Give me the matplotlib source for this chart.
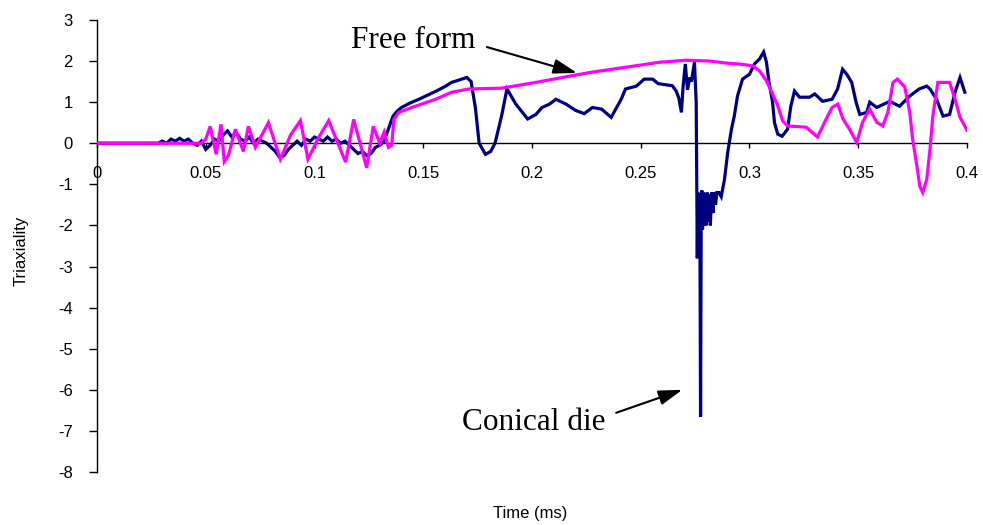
import matplotlib
matplotlib.use("Agg")
import matplotlib.pyplot as plt

# Conical die: time (ms) and stress triaxiality
conical_t = [0, 0.028, 0.030, 0.032, 0.034, 0.036, 0.038, 0.040, 0.042, 0.044, 0.046, 0.048,
             0.050, 0.052, 0.054, 0.056, 0.058, 0.060, 0.062, 0.064, 0.066, 0.068, 0.070, 0.072,
             0.074, 0.076, 0.078, 0.080, 0.082, 0.084, 0.086, 0.088, 0.090, 0.092, 0.094, 0.096,
             0.098, 0.100, 0.102, 0.104, 0.106, 0.108, 0.110, 0.112, 0.114, 0.116, 0.118, 0.120,
             0.122, 0.124, 0.126, 0.128, 0.130, 0.132, 0.134, 0.136, 0.138, 0.140, 0.144, 0.148,
             0.152, 0.156, 0.160, 0.163, 0.166, 0.170, 0.172, 0.174, 0.1757, 0.1786, 0.181, 0.183,
             0.186, 0.1885, 0.1926, 0.198, 0.2018, 0.2046, 0.208, 0.211, 0.2157, 0.220, 0.224,
             0.2278, 0.232, 0.2364, 0.241, 0.243, 0.248, 0.2516, 0.2555, 0.258, 0.2645, 0.2663,
             0.2675, 0.2687, 0.2695, 0.2705, 0.2715, 0.2725, 0.2733, 0.2747, 0.2755, 0.2760,
             0.2763, 0.2766, 0.2769, 0.2772, 0.2775, 0.2778, 0.2781, 0.2784, 0.2788, 0.2792,
             0.2796, 0.2800, 0.2805, 0.2810, 0.2815, 0.2820, 0.2826, 0.2832, 0.2838, 0.2844,
             0.2850, 0.286, 0.287, 0.2885,
             0.290, 0.2917, 0.293, 0.2945, 0.2968, 0.300, 0.3023, 0.3046, 0.3065, 0.3078, 0.309,
             0.3106, 0.3115, 0.313, 0.315, 0.3175, 0.319, 0.3207, 0.323, 0.3276, 0.330, 0.3336,
             0.338, 0.3405, 0.3428, 0.3447, 0.347, 0.349, 0.3507, 0.3539, 0.3553, 0.3585, 0.3645,
             0.369, 0.3737, 0.378, 0.3815, 0.383, 0.386, 0.389, 0.392, 0.3945, 0.3968, 0.399]
conical_v = [0, 0, 0.05, 0.0, 0.1, 0.05, 0.12, 0.05, 0.1, 0.0, -0.05, 0.05,
             -0.15, -0.05, 0.1, 0.05, 0.2, 0.3, 0.15, 0.25, 0.1, 0.05, 0.15, 0.0,
             0.1, 0.05, 0.0, -0.1, -0.2, -0.35, -0.3, -0.15, -0.05, 0.05, -0.05, 0.1,
             0.05, 0.15, 0.1, 0.05, 0.15, 0.05, 0.1, 0.0, 0.05, -0.05, -0.15, -0.25,
             -0.2, -0.3, -0.25, -0.1, -0.05, 0.05, 0.35, 0.65, 0.78, 0.87, 0.98, 1.07,
             1.17, 1.27, 1.38, 1.48, 1.53, 1.6, 1.5, 0.85, 0.0, -0.27, -0.2, 0.0,
             0.66, 1.32, 0.95, 0.59, 0.7, 0.87, 0.95, 1.07, 0.95, 0.8, 0.72,
             0.87, 0.83, 0.63, 1.07, 1.32, 1.39, 1.56, 1.56, 1.45, 1.4, 1.27,
             1.1, 0.75, 1.4, 1.93, 1.3, 1.6, 1.5, 1.97, 1.0, -2.8,
             -1.2, -2.75, -1.3, -2.0, -6.65, -1.8, -1.15, -2.1, -1.2, -2.0,
             -1.25, -2.0, -1.2, -1.9, -1.25, -2.0, -1.2, -1.7, -1.2, -1.5,
             -1.2, -1.2, -1.3, -0.88,
             -0.22, 0.34, 0.66, 1.15, 1.56, 1.68, 1.93, 2.05, 2.22, 1.97, 1.48,
             1.0, 0.5, 0.22, 0.17, 0.34, 0.9, 1.27, 1.12, 1.12, 1.2, 1.02,
             1.07, 1.32, 1.8, 1.68, 1.48, 1.0, 0.7, 0.75, 1.0, 0.87, 1.02,
             0.9, 1.15, 1.32, 1.39, 1.32, 1.07, 0.66, 0.7, 1.24, 1.6, 1.24]

# Free form: time (ms) and stress triaxiality
free_t = [0, 0.048, 0.050, 0.052, 0.0548, 0.057, 0.0585, 0.0604, 0.0636, 0.0673, 0.0696,
          0.0728, 0.0788, 0.0843, 0.089, 0.0935, 0.097, 0.1015, 0.1065, 0.1143, 0.118, 0.124,
          0.127, 0.130, 0.132, 0.134, 0.1355, 0.1365, 0.1387, 0.1447, 0.1557, 0.163, 0.171,
          0.186, 0.2018, 0.217, 0.2276, 0.2433, 0.2585, 0.271, 0.2816, 0.2894, 0.2968, 0.3014,
          0.3046, 0.3078, 0.3106, 0.313, 0.3152, 0.3175, 0.326, 0.3313, 0.333, 0.336, 0.338,
          0.3406, 0.343, 0.346, 0.3493, 0.352, 0.3553, 0.3585, 0.3613, 0.3636, 0.366, 0.368,
          0.3714, 0.3737, 0.375, 0.377, 0.3783, 0.3797, 0.3815, 0.383, 0.3843, 0.3866, 0.392,
          0.3945, 0.3968, 0.400]
free_v = [0, 0, 0.1, 0.41, -0.27, 0.46, -0.45, -0.3, 0.34, -0.2, 0.41,
          -0.1, 0.5, -0.39, 0.2, 0.55, -0.39, 0.1, 0.55, -0.46, 0.58, -0.6,
          0.41, 0.0, 0.27, -0.1, -0.05, 0.58, 0.75, 0.87, 1.07, 1.24, 1.32,
          1.34, 1.48, 1.63, 1.73, 1.85, 1.97, 2.02, 2.0, 1.95, 1.92, 1.88,
          1.76, 1.52, 1.2, 0.91, 0.55, 0.42, 0.39, 0.15, 0.34, 0.67, 0.87,
          0.95, 0.59, 0.34, 0.02, 0.51, 0.83, 0.51, 0.42, 0.75, 1.48, 1.56,
          1.37, 0.75, 0.1, -0.56, -1.05, -1.2, -0.88, -0.15, 0.66, 1.48, 1.48,
          1.07, 0.63, 0.32]

x_ticks = [0, 0.05, 0.1, 0.15, 0.2, 0.25, 0.3, 0.35, 0.4]
x_tick_labels = ["0", "0.05", "0.1", "0.15", "0.2", "0.25", "0.3", "0.35", "0.4"]
y_ticks = list(range(-8, 4))

sans = "Liberation Sans"
serif = "Liberation Serif"

fig = plt.figure(figsize=(9.83, 5.25), dpi=100)
ax = fig.add_axes([0.0987, 0.101, 0.885, 0.861])

ax.plot(conical_t, conical_v, color="#000080", lw=2.3, zorder=2, solid_joinstyle="miter")
ax.plot(free_t, free_v, color="#FF00FF", lw=2.3, zorder=3, solid_joinstyle="miter")

ax.set_xlim(0, 0.4)
ax.set_ylim(-8, 3)

for s in ("top", "right"):
    ax.spines[s].set_visible(False)
ax.spines["bottom"].set_position(("data", 0))
ax.spines["left"].set_linewidth(1.0)
ax.spines["bottom"].set_linewidth(1.0)

ax.set_xticks(x_ticks)
ax.set_xticklabels(x_tick_labels, fontfamily=sans, fontsize=12)
ax.set_yticks(y_ticks)
ax.set_yticklabels([str(v) for v in y_ticks], fontfamily=sans, fontsize=12)
ax.tick_params(axis="x", direction="out", length=3.5, width=1.0, pad=13)
ax.tick_params(axis="y", direction="out", length=5.5, width=1.0, pad=12)

ax.set_ylabel("Triaxiality", fontfamily=sans, fontsize=12)
ax.yaxis.set_label_coords(-0.079, 0.49)
ax.set_xlabel("Time (ms)", fontfamily=sans, fontsize=12)
ax.xaxis.set_label_coords(0.498, -0.075)

ax.text(0.1166, 2.49, "Free form", fontfamily=serif, fontsize=22.5,
        ha="left", va="center", clip_on=False)
ax.annotate("", xy=(0.2207, 1.71), xytext=(0.1793, 2.34),
            arrowprops=dict(arrowstyle="-|>,head_length=0.8,head_width=0.25",
                            mutation_scale=18, color="black", lw=1.5,
                            shrinkA=0, shrinkB=0), annotation_clip=False)

ax.text(0.1677, -6.80, "Conical die", fontfamily=serif, fontsize=22.5,
        ha="left", va="center", clip_on=False)
ax.annotate("", xy=(0.2691, -6.0), xytext=(0.2387, -6.56),
            arrowprops=dict(arrowstyle="-|>,head_length=0.8,head_width=0.25",
                            mutation_scale=18, color="black", lw=1.5,
                            shrinkA=0, shrinkB=0), annotation_clip=False)

fig.savefig("out.png", dpi=100, facecolor="white")
